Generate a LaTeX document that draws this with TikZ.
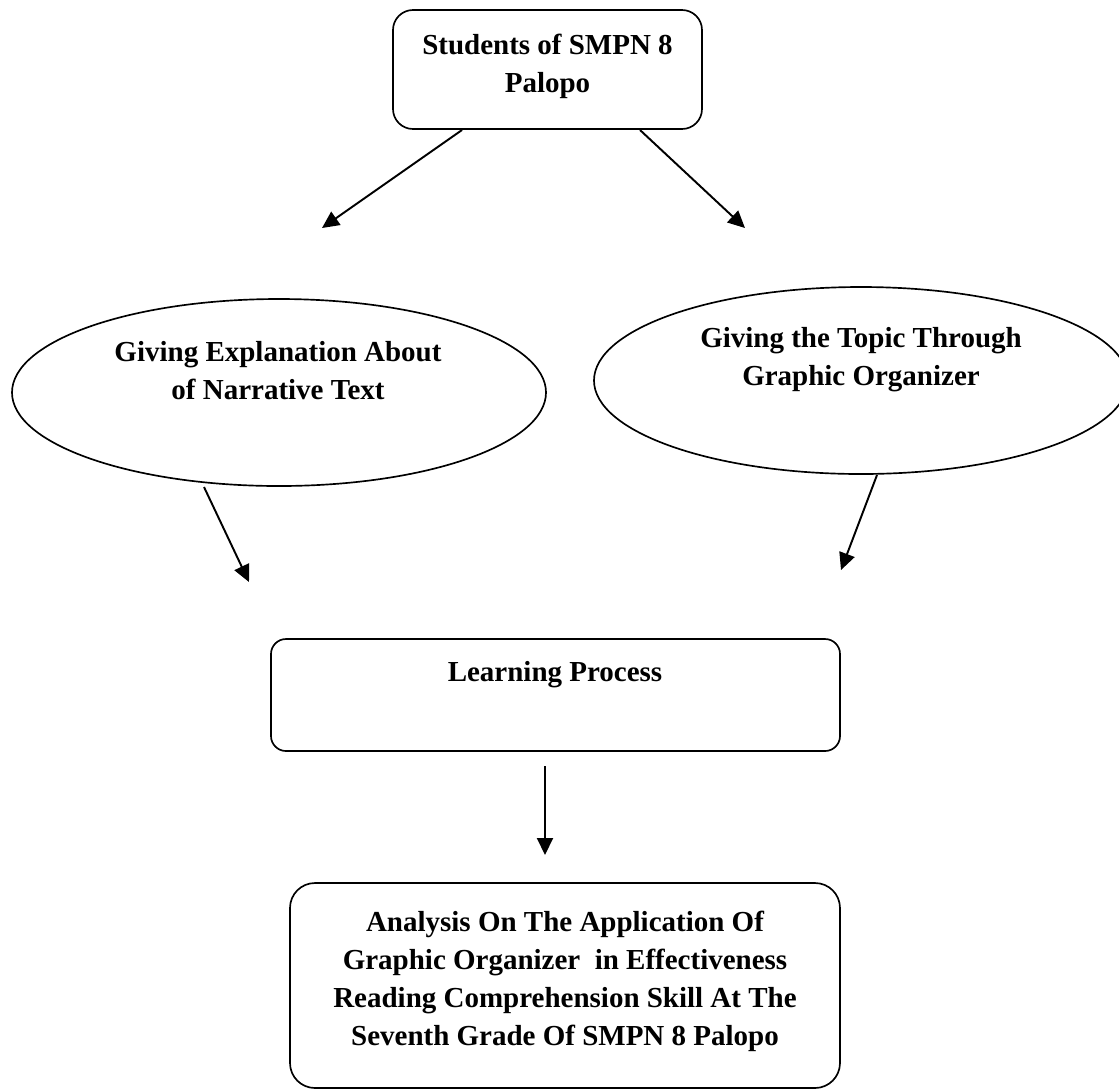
\documentclass[tikz,border=0pt]{standalone}
\usepackage{fontspec}
\setmainfont{Liberation Serif}
\usetikzlibrary{arrows.meta,shapes.geometric}
\begin{document}
\begin{tikzpicture}[x=0.02cm,y=-0.02cm,
  txt/.style={font=\bfseries\fontsize{16.5}{21.6}\selectfont,align=center,inner sep=0pt},
  shapeline/.style={draw,line width=0.95pt},
  conn/.style={line width=1.1pt,-{Triangle[length=0.34cm,width=0.32cm]}}]
\useasboundingbox (0,0) rectangle (1119,1090);
% top box
\draw[shapeline,rounded corners=0.4cm] (393,10) rectangle (702,129);
\node[txt] (top) at (547.5,66) {Students of SMPN 8\\Palopo};
% ellipses
\draw[shapeline] (279,392.5) ellipse [x radius=267, y radius=93.5];
\node[txt] (left) at (278,371) {Giving Explanation About\\of Narrative Text};
\draw[shapeline] (861,380.5) ellipse [x radius=267, y radius=93.5];
\node[txt] (right) at (861,360) {Giving the Topic Through\\Graphic Organizer};
% learning box
\draw[shapeline,rounded corners=0.3cm] (271,639) rectangle (840,751);
\node[txt] (learn) at (555,675) {Learning Process};
% bottom box
\draw[shapeline,rounded corners=0.5cm] (290,883) rectangle (840,1088);
\node[txt] (bottom) at (565,981) {Analysis On The Application Of\\Graphic Organizer\ \ in Effectiveness\\Reading Comprehension Skill At The\\Seventh Grade Of SMPN 8 Palopo};
% arrows
\coordinate (a1s) at (462,130); \coordinate (a1e) at (322,228);
\coordinate (a2s) at (640,130); \coordinate (a2e) at (745,228);
\coordinate (a3s) at (204,487); \coordinate (a3e) at (249,582);
\coordinate (a4s) at (877,475); \coordinate (a4e) at (841,570);
\coordinate (a5s) at (545,766); \coordinate (a5e) at (545,855);
\draw[conn] (a1s) -- (a1e);
\draw[conn] (a2s) -- (a2e);
\draw[conn] (a3s) -- (a3e);
\draw[conn] (a4s) -- (a4e);
\draw[conn] (a5s) -- (a5e);
\end{tikzpicture}
\end{document}
